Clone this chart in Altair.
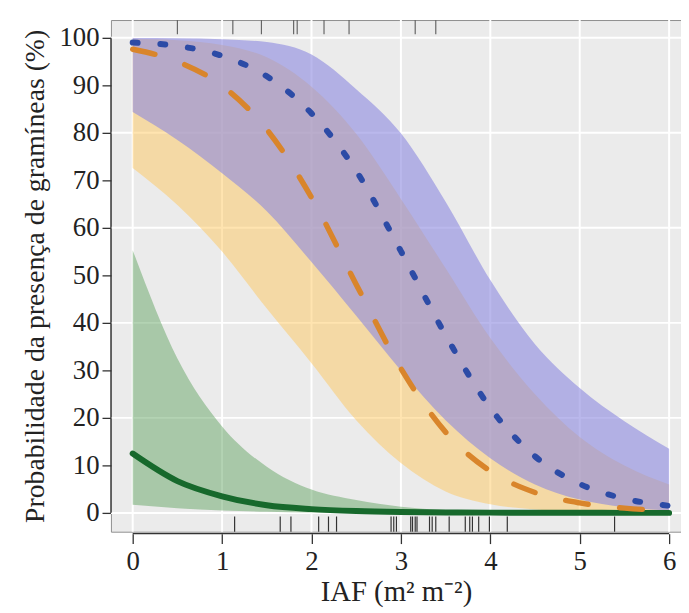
import altair as alt
import pandas as pd

# ---------------- data ----------------
iaf = [0.0, 0.5, 1.0, 1.5, 2.0, 2.5, 3.0, 3.5, 4.0, 4.5, 5.0, 5.5, 6.0]

blue_fit = [99.0, 98.3, 96.2, 91.9, 84.1, 72.0, 55.1, 37.4, 22.1, 11.9, 6.1, 3.0, 1.5]
blue_low = [84.4, 78.5, 71.5, 63.5, 52.8, 41.5, 30.0, 19.5, 11.5, 6.0, 2.8, 1.2, 0.5]
blue_high = [99.95, 99.9, 99.7, 99.1, 96.5, 89.2, 79.9, 65.5, 49.0, 35.5, 26.3, 19.3, 13.5]

orange_fit = [97.6, 95.0, 89.9, 80.7, 66.4, 48.1, 30.4, 17.0, 8.8, 4.3, 2.1, 1.0, 0.5]
orange_low = [72.6, 64.8, 55.0, 43.0, 31.5, 19.5, 10.5, 4.5, 1.8, 0.7, 0.25, 0.1, 0.05]
orange_high = [99.8, 99.5, 98.5, 95.9, 89.7, 79.8, 66.1, 51.5, 36.8, 25.0, 16.0, 10.0, 6.0]

green_fit = [12.5, 6.7, 3.5, 1.6, 0.8, 0.4, 0.2, 0.1, 0.05, 0.03, 0.02, 0.01, 0.0]
green_low = [1.7, 1.0, 0.5, 0.25, 0.1, 0.05, 0.02, 0.01, 0.0, 0.0, 0.0, 0.0, 0.0]
green_high = [55.3, 32.5, 18.2, 9.7, 4.9, 2.7, 1.3, 0.6, 0.3, 0.2, 0.1, 0.05, 0.0]

rug_top = [0.50, 1.12, 1.44, 1.80, 1.84, 2.14, 2.42, 3.16, 3.39]
rug_bottom = [1.14, 1.65, 1.77, 2.08, 2.19, 2.28, 2.89, 2.92, 2.95, 3.11, 3.13, 3.16,
              3.18, 3.32, 3.35, 3.39, 3.54, 3.72, 3.77, 3.80, 3.87, 3.99, 4.19, 5.39]

x_ticks = [0, 1, 2, 3, 4, 5, 6]
y_ticks = [0, 10, 20, 30, 40, 50, 60, 70, 80, 90, 100]
y_grid = [0, 20, 40, 60, 80, 100]

x_title = "IAF (m\u00b2 m\u207b\u00b2)"
y_title = "Probabilidade da presença de gramíneas (%)"

# ---------------- layout ----------------
XMIN, XMAX = -0.2435, 6.133
YMIN, YMAX = -3.96, 103.75
W, H = 576, 517
FONT = "Liberation Serif"

curves = pd.DataFrame({
    "x": iaf,
    "b": blue_fit, "bl": blue_low, "bh": blue_high,
    "o": orange_fit, "ol": orange_low, "oh": orange_high,
    "g": green_fit, "gl": green_low, "gh": green_high,
})

xs = alt.Scale(domain=[XMIN, XMAX], nice=False, zero=False)
ys = alt.Scale(domain=[YMIN, YMAX], nice=False, zero=False)

x_axis = alt.Axis(values=x_ticks, grid=False, domain=False, tickSize=10, tickWidth=1.3,
                  tickColor="#333333", labelFont=FONT, labelFontSize=27, labelColor="#222222",
                  labelPadding=5, offset=2, title=x_title, titleFont=FONT, titleFontSize=29,
                  titleFontWeight="normal", titleColor="#222222", titlePadding=4, format="d")
y_axis = alt.Axis(values=y_ticks, grid=False, domain=False, tickSize=9, tickWidth=1.3,
                  tickColor="#333333", labelFont=FONT, labelFontSize=27, labelColor="#222222",
                  labelPadding=3, title=y_title, titleFont=FONT, titleFontSize=28,
                  titleFontWeight="normal", titleColor="#222222", titlePadding=10, format="d")

base = alt.Chart(curves)

# grid lines
vgrid = alt.Chart(pd.DataFrame({"x": x_ticks})).mark_rule(color="white", strokeWidth=2).encode(
    x=alt.X("x:Q", scale=xs, axis=x_axis))
hgrid = alt.Chart(pd.DataFrame({"y": y_grid})).mark_rule(color="white", strokeWidth=2).encode(
    y=alt.Y("y:Q", scale=ys, axis=y_axis))

def band(lo, hi, color, op):
    return base.mark_area(color=color, opacity=op, interpolate="monotone", clip=True).encode(
        x=alt.X("x:Q", scale=xs), y=alt.Y(lo + ":Q", scale=ys), y2=alt.Y2(hi + ":Q"))

def line(col, color, width, dash=None):
    kw = dict(color=color, strokeWidth=width, interpolate="monotone", strokeCap="round", clip=True)
    if dash:
        kw["strokeDash"] = dash
    return base.mark_line(**kw).encode(x=alt.X("x:Q", scale=xs), y=alt.Y(col + ":Q", scale=ys))

green_band = band("gl", "gh", "#569D56", 0.45)
orange_band = band("ol", "oh", "#FFC34F", 0.45)
blue_band = band("bl", "bh", "#8C89DF", 0.6)

green_line = line("g", "#17692C", 6)
orange_line = line("o", "#D9852B", 5.5, [23, 32])
blue_line = line("b", "#2C4BA6", 6, [5, 23])

# rugs
rug_t = alt.Chart(pd.DataFrame({"x": rug_top})).mark_rule(color="#666666", strokeWidth=1.2).encode(
    x=alt.X("x:Q", scale=xs), y=alt.datum(YMAX), y2=alt.datum(YMAX - 3.0))
rug_b = alt.Chart(pd.DataFrame({"x": rug_bottom})).mark_rule(color="#333333", strokeWidth=1.2).encode(
    x=alt.X("x:Q", scale=xs), y=alt.datum(YMIN), y2=alt.datum(YMIN + 3.2))

# R-style axis lines spanning first to last tick
x_line = alt.Chart(pd.DataFrame({"a": [x_ticks[0]], "b": [x_ticks[-1]]})).mark_rule(
    color="#333333", strokeWidth=1.3, clip=False).encode(
    x=alt.X("a:Q", scale=xs), x2="b:Q", y=alt.datum(YMIN - 0.4))
y_line = alt.Chart(pd.DataFrame({"a": [y_ticks[0]], "b": [y_ticks[-1]]})).mark_rule(
    color="#333333", strokeWidth=1.3, clip=False).encode(
    y=alt.Y("a:Q", scale=ys), y2="b:Q", x=alt.datum(XMIN))

chart = alt.layer(
    vgrid, hgrid, green_band, orange_band, blue_band,
    green_line, orange_line, blue_line, rug_t, rug_b, x_line, y_line
).properties(
    width=W, height=H,
    background="white",
    autosize=alt.AutoSizeParams(type="none"),
    padding={"left": 104, "top": 9, "right": 0, "bottom": 80},
).configure_view(
    fill="#EBEBEB", stroke="#8F8F8F", strokeWidth=1
)

chart.save("out.html", embed_options={"renderer": "svg", "actions": False})
